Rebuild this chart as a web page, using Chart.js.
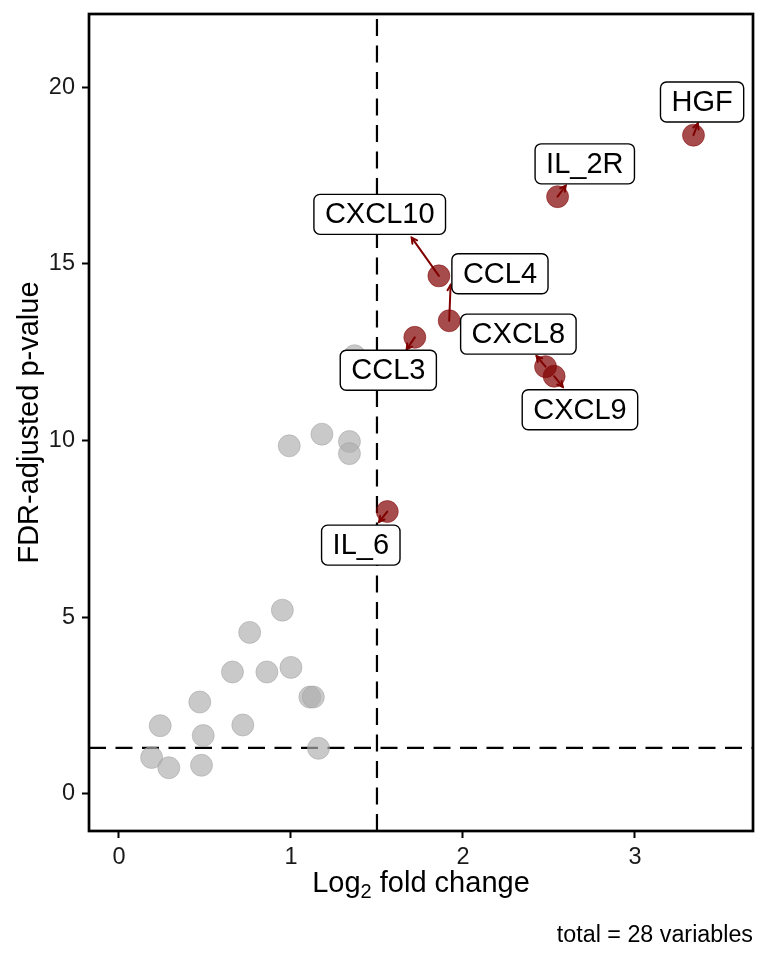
<!DOCTYPE html>
<html>
<head>
<meta charset="utf-8">
<script src="https://cdn.jsdelivr.net/npm/chart.js@4.4.1/dist/chart.umd.min.js"></script>
<style>
  html, body { margin: 0; padding: 0; background: #fff; }
  #wrap { width: 768px; height: 960px; }
</style>
</head>
<body>
<div id="wrap"><canvas id="volcano" width="768" height="960"></canvas></div>
<script>
// significant variables (red, labelled)
var sigGenes = ['HGF', 'IL_2R', 'CXCL10', 'CCL4', 'CCL3', 'CXCL8', 'CXCL9', 'IL_6'];
var sigFC    = [3.34, 2.55, 1.86, 1.92, 1.72, 2.48, 2.53, 1.56];
var sigP     = [18.64, 16.90, 14.66, 13.39, 12.92, 12.09, 11.82, 7.99];

// label box centres, in data units (where the repelled labels ended up)
var labelX = [3.390, 2.708, 1.516, 2.215, 1.566, 2.322, 2.680, 1.406];
var labelY = [19.58, 17.83, 16.40, 14.72, 11.99, 13.01, 10.87, 7.04];
// where each connector segment stops (arrow tip), data units
var tipX = [3.365, 2.597, 1.702, 1.928, 1.673, 2.428, 2.580, 1.512];
var tipY = [18.97, 17.21, 15.74, 14.40, 12.58, 12.39, 11.52, 7.70];

// not significant (grey)
var nsFC = [0.95, 0.76, 0.66, 0.86, 1.00, 1.11, 1.13, 0.47, 0.24, 0.49,
            0.72, 1.16, 0.19, 0.29, 0.48, 0.99, 1.18, 1.34, 1.34, 1.37];
var nsP  = [5.20, 4.57, 3.45, 3.45, 3.58, 2.74, 2.74, 2.60, 1.93, 1.65,
            1.95, 1.29, 1.03, 0.74, 0.81, 9.85, 10.18, 9.97, 9.63, 12.40];

var xTicks = [0, 1, 2, 3];
var yTicks = [0, 5, 10, 15, 20];
var fcCutoff = 1.5;
var pCutoff = 1.301;   // -log10(0.05)

var FONT = "'Liberation Sans', Arial, Helvetica, sans-serif";
Chart.defaults.font.family = FONT;

function toPoints(xs, ys) {
	var out = [];
	for (var i = 0; i < xs.length; i++) out.push({x: xs[i], y: ys[i]});
	return out;
}

function roundRect(ctx, x, y, w, h, r) {
	ctx.beginPath();
	ctx.moveTo(x + r, y);
	ctx.lineTo(x + w - r, y);
	ctx.arcTo(x + w, y, x + w, y + r, r);
	ctx.lineTo(x + w, y + h - r);
	ctx.arcTo(x + w, y + h, x + w - r, y + h, r);
	ctx.lineTo(x + r, y + h);
	ctx.arcTo(x, y + h, x, y + h - r, r);
	ctx.lineTo(x, y + r);
	ctx.arcTo(x, y, x + r, y, r);
	ctx.closePath();
}

var volcanoExtras = {
	id: 'volcanoExtras',
	beforeDatasetsDraw: function(chart) {
		var ctx = chart.ctx, a = chart.chartArea;
		var xs = chart.scales.x, ys = chart.scales.y;
		ctx.save();
		ctx.beginPath();
		ctx.rect(a.left, a.top, a.right - a.left, a.bottom - a.top);
		ctx.clip();
		ctx.strokeStyle = '#000';
		ctx.lineWidth = 2.2;
		ctx.setLineDash([17, 9.5]);
		var vx = xs.getPixelForValue(fcCutoff);
		ctx.beginPath(); ctx.moveTo(vx, a.bottom); ctx.lineTo(vx, a.top); ctx.stroke();
		var hy = ys.getPixelForValue(pCutoff);
		ctx.beginPath(); ctx.moveTo(a.left, hy); ctx.lineTo(a.right, hy); ctx.stroke();
		ctx.restore();
	},
	afterDatasetsDraw: function(chart) {
		var ctx = chart.ctx;
		var xs = chart.scales.x, ys = chart.scales.y;
		ctx.save();
		// connector segments with small open arrow heads at the label end
		ctx.strokeStyle = '#800000';
		ctx.lineWidth = 2;
		ctx.lineCap = 'round';
		for (var i = 0; i < sigGenes.length; i++) {
			var px = xs.getPixelForValue(sigFC[i]), py = ys.getPixelForValue(sigP[i]);
			var ex = xs.getPixelForValue(tipX[i]), ey = ys.getPixelForValue(tipY[i]);
			ctx.beginPath(); ctx.moveTo(px, py); ctx.lineTo(ex, ey); ctx.stroke();
			var ang = Math.atan2(ey - py, ex - px), len = 6;
			ctx.beginPath();
			ctx.moveTo(ex - len * Math.cos(ang - 0.5), ey - len * Math.sin(ang - 0.5));
			ctx.lineTo(ex, ey);
			ctx.lineTo(ex - len * Math.cos(ang + 0.5), ey - len * Math.sin(ang + 0.5));
			ctx.stroke();
		}
		// label boxes
		ctx.font = '29px ' + FONT;
		ctx.textAlign = 'center';
		ctx.textBaseline = 'middle';
		for (var i = 0; i < sigGenes.length; i++) {
			var cx = xs.getPixelForValue(labelX[i]), cy = ys.getPixelForValue(labelY[i]);
			var w = ctx.measureText(sigGenes[i]).width + 22, h = 40;
			roundRect(ctx, cx - w / 2, cy - h / 2, w, h, 6);
			ctx.fillStyle = '#fff';
			ctx.fill();
			ctx.strokeStyle = '#000';
			ctx.lineWidth = 1.4;
			ctx.stroke();
			ctx.fillStyle = '#000';
			ctx.fillText(sigGenes[i], cx, cy + 1);
		}
		ctx.restore();
	},
	afterDraw: function(chart) {
		var ctx = chart.ctx, a = chart.chartArea;
		ctx.save();
		// panel frame
		ctx.strokeStyle = '#000';
		ctx.lineWidth = 2.7;
		ctx.strokeRect(a.left, a.top, a.right - a.left, a.bottom - a.top);
		ctx.fillStyle = '#000';
		// x title with subscript
		var mid = (a.left + a.right) / 2, base = 892;
		ctx.font = '29px ' + FONT;
		var w1 = ctx.measureText('Log').width, w3 = ctx.measureText(' fold change').width;
		ctx.font = '20px ' + FONT;
		var w2 = ctx.measureText('2').width;
		var x0 = mid - (w1 + w2 + w3) / 2;
		ctx.textAlign = 'left';
		ctx.textBaseline = 'alphabetic';
		ctx.font = '29px ' + FONT;
		ctx.fillText('Log', x0, base);
		ctx.font = '20px ' + FONT;
		ctx.fillText('2', x0 + w1, base + 6);
		ctx.font = '29px ' + FONT;
		ctx.fillText(' fold change', x0 + w1 + w2, base);
		// y title
		ctx.save();
		ctx.translate(37.5, (a.top + a.bottom) / 2);
		ctx.rotate(-Math.PI / 2);
		ctx.textAlign = 'center';
		ctx.fillText('FDR-adjusted p-value', 0, 0);
		ctx.restore();
		// caption
		ctx.font = '23.3px ' + FONT;
		ctx.textAlign = 'right';
		ctx.fillText('total = ' + (sigGenes.length + nsFC.length) + ' variables', 753, 942);
		ctx.restore();
	}
};

new Chart(document.getElementById('volcano'), {
	type: 'scatter',
	data: {
		datasets: [
			{
				label: 'ns',
				data: toPoints(nsFC, nsP),
				backgroundColor: 'rgba(175,175,175,0.68)',
				borderColor: 'rgba(160,160,160,0.5)',
				borderWidth: 1,
				pointRadius: 11
			},
			{
				label: 'sig',
				data: toPoints(sigFC, sigP),
				backgroundColor: 'rgba(128,0,0,0.7)',
				borderColor: 'rgba(128,0,0,0.5)',
				borderWidth: 1,
				pointRadius: 11
			}
		]
	},
	options: {
		responsive: false,
		animation: false,
		layout: { padding: { left: 0, top: 14, right: 15, bottom: 0 } },
		plugins: { legend: { display: false }, tooltip: { enabled: false } },
		scales: {
			x: {
				type: 'linear',
				min: -0.174,
				max: 3.686,
				afterBuildTicks: function(s) { s.ticks = xTicks.map(function(v) { return {value: v}; }); },
				afterFit: function(s) { s.height = 129; s.paddingLeft = 0; s.paddingRight = 0; },
				border: { display: false },
				grid: { drawOnChartArea: false, drawTicks: true, tickLength: 7, tickWidth: 2, tickColor: '#000' },
				ticks: { font: { size: 23.5 }, color: '#1a1a1a', padding: 5, maxRotation: 0 }
			},
			y: {
				type: 'linear',
				min: -1.05,
				max: 22.07,
				afterBuildTicks: function(s) { s.ticks = yTicks.map(function(v) { return {value: v}; }); },
				afterFit: function(s) { s.width = 89; s.paddingTop = 0; s.paddingBottom = 0; },
				border: { display: false },
				grid: { drawOnChartArea: false, drawTicks: true, tickLength: 7, tickWidth: 2, tickColor: '#000' },
				ticks: { font: { size: 23.5 }, color: '#1a1a1a', padding: 7 }
			}
		}
	},
	plugins: [volcanoExtras]
});
</script>
</body>
</html>
